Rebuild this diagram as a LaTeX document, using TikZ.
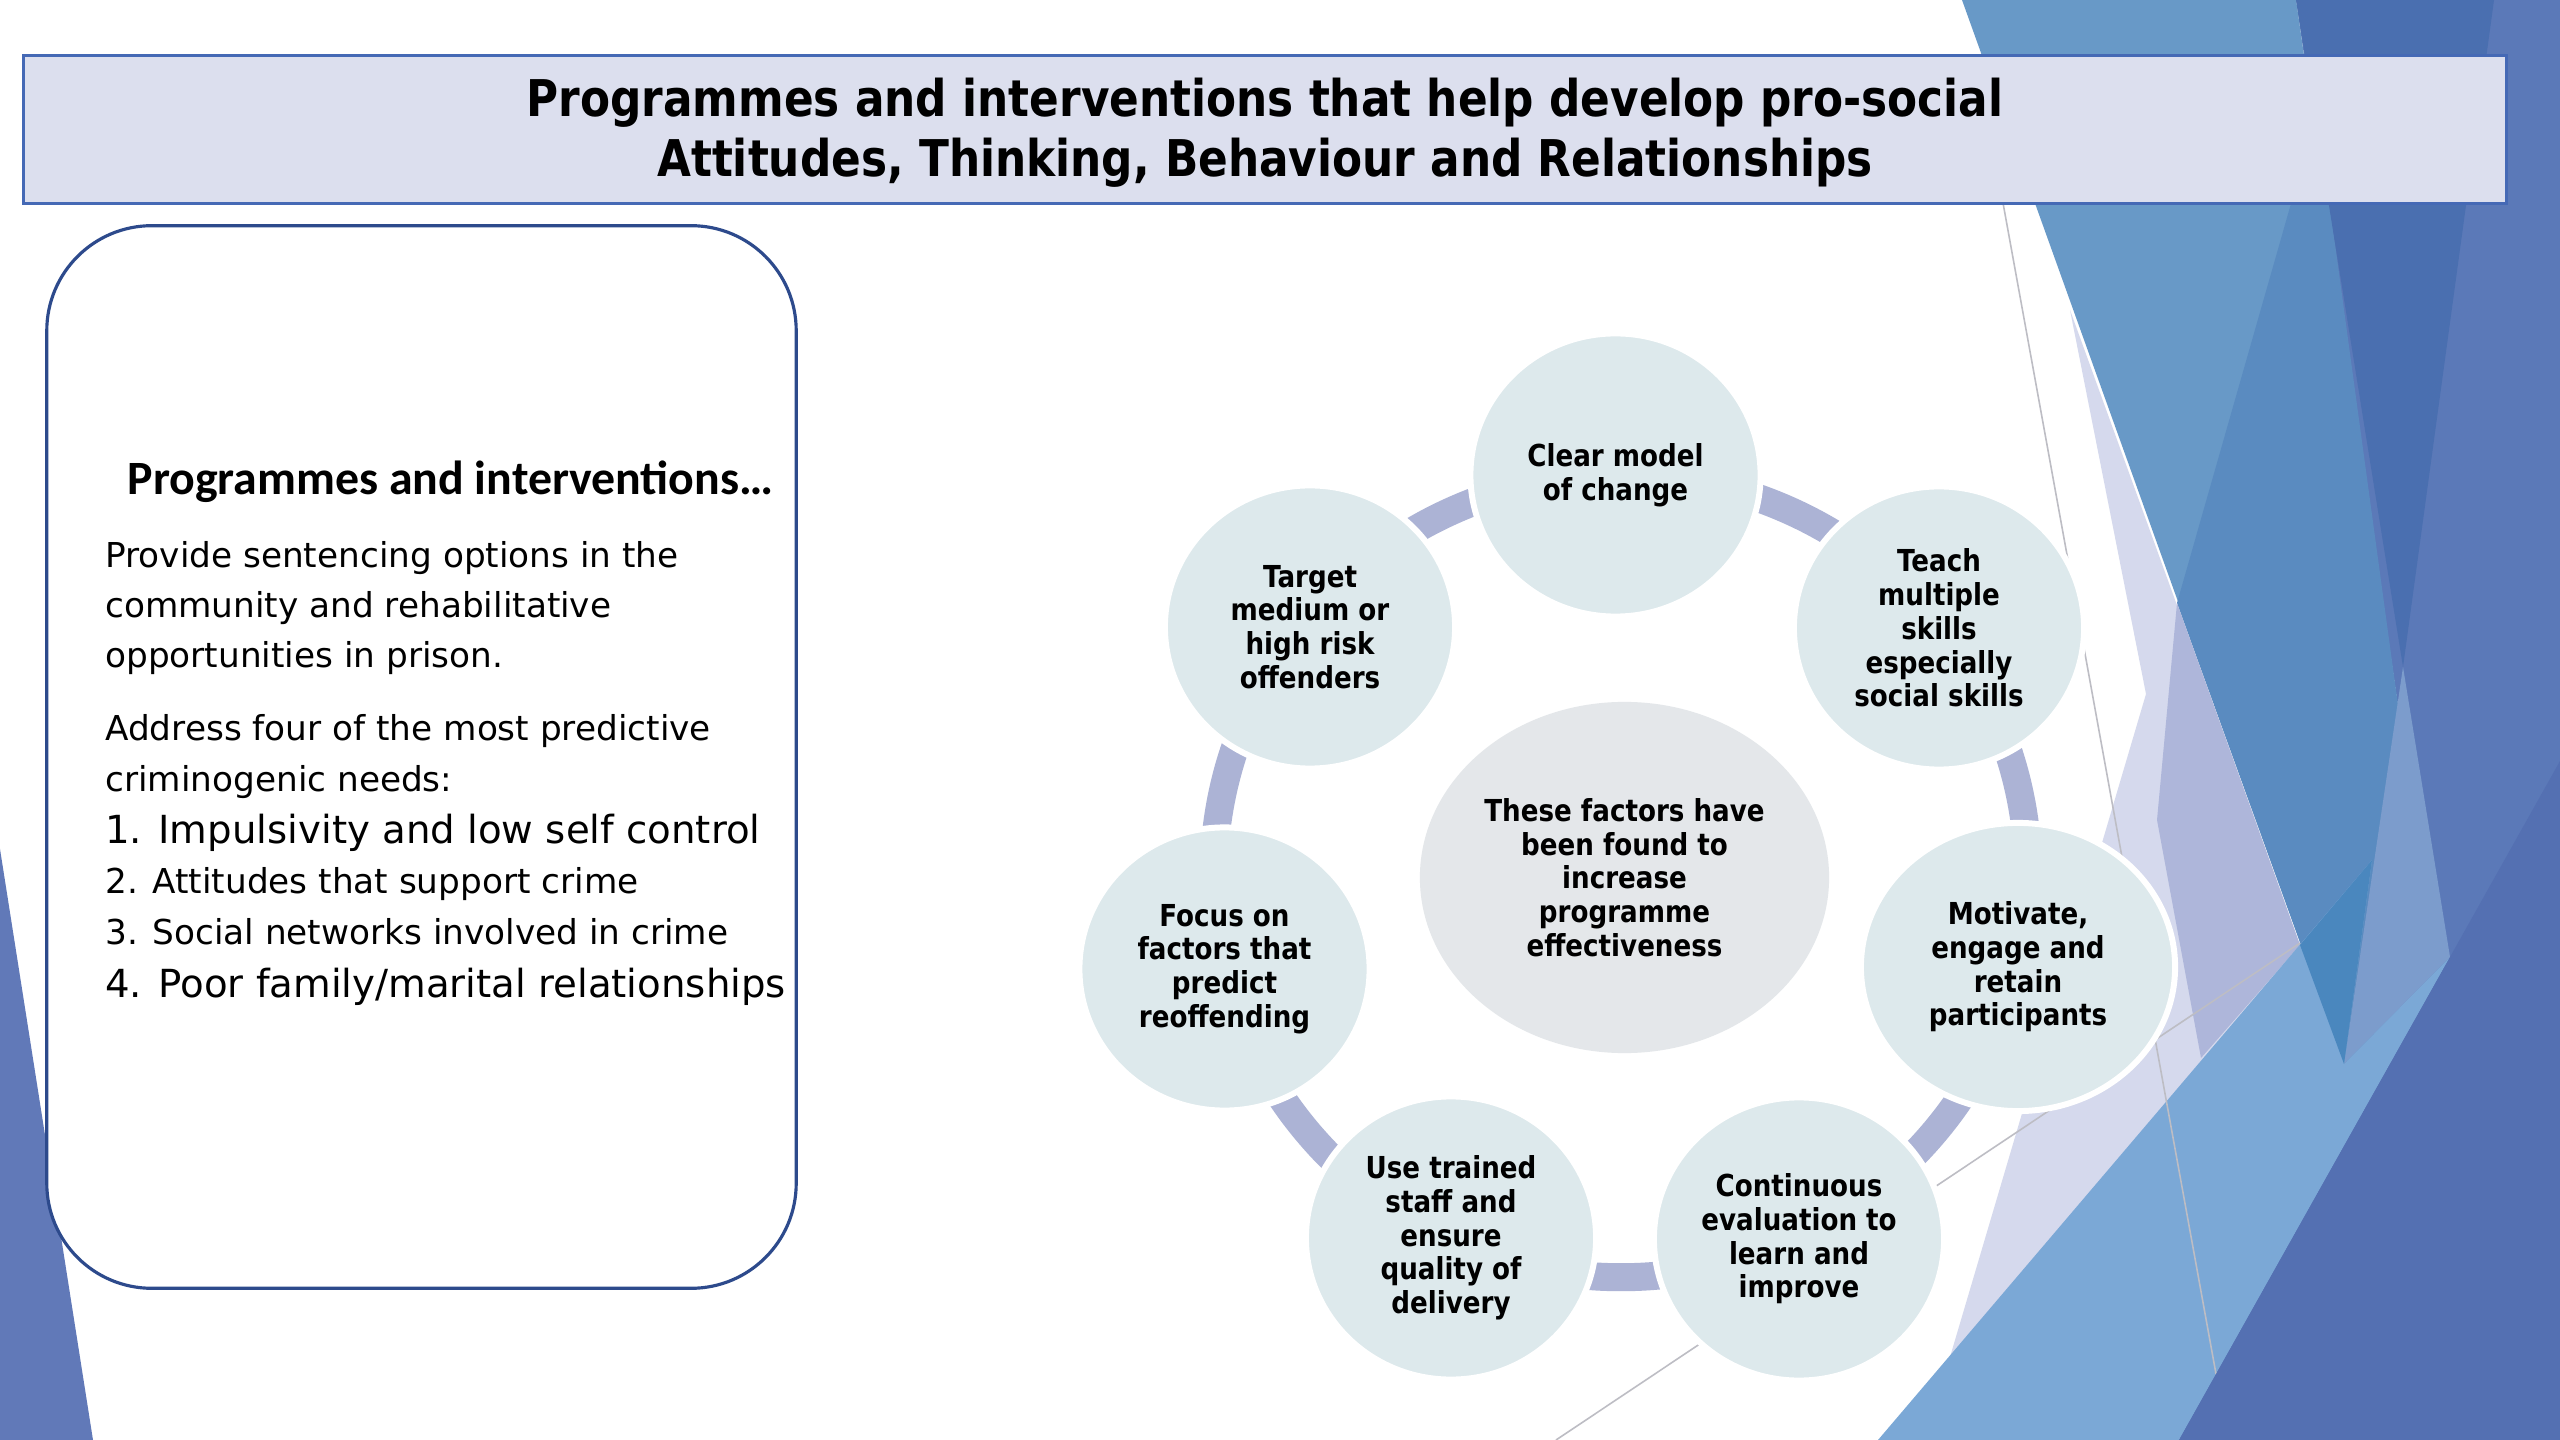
\documentclass[tikz,border=0pt]{standalone}
\usepackage{fontspec}
\setmainfont{DejaVu Sans}
\newfontfamily\titlef{DejaVu Sans}[FakeStretch=0.865]
\newfontfamily\headf{Carlito}
\usetikzlibrary{shapes.geometric}
\definecolor{bgbase}{HTML}{5B79B8}
\definecolor{bgkite}{HTML}{6899C7}
\definecolor{bgkitedk}{HTML}{5A8BC0}
\definecolor{bgband}{HTML}{4A6FB0}
\definecolor{bgstripe}{HTML}{7C9CCC}
\definecolor{bglavlt}{HTML}{D5D9ED}
\definecolor{bglavmd}{HTML}{AEB6DA}
\definecolor{bglblue}{HTML}{7BA8D6}
\definecolor{bgover}{HTML}{4A87BE}
\definecolor{bgdark}{HTML}{5470B2}
\definecolor{bgleft}{HTML}{6179B8}
\definecolor{titlefill}{HTML}{DCDFEE}
\definecolor{titleline}{HTML}{4569B5}
\definecolor{boxline}{HTML}{2D4A8C}
\definecolor{circfill}{HTML}{DDE9EC}
\definecolor{centfill}{HTML}{E4E7EA}
\definecolor{ringcol}{HTML}{ACB3D5}
\definecolor{thinline}{HTML}{BDBDC4}
\tikzset{
  titletext/.style={anchor=base, inner sep=0pt, font=\titlef\bfseries\fontsize{14.4pt}{17pt}\selectfont},
  bodyline/.style={anchor=base west, inner sep=0pt, font=\fontsize{9.75pt}{12pt}\selectfont},
  bigline/.style={anchor=base west, inner sep=0pt, font=\fontsize{11pt}{13pt}\selectfont},
  circ/.style={ellipse, draw=white, line width=1.7pt, fill=circfill, minimum width=2.90cm, minimum height=2.83cm, inner sep=0pt, align=center, font=\titlef\bfseries\fontsize{8.6pt}{9.6pt}\selectfont},
  ring/.style={draw=ringcol, line width=0.28cm},
  thin/.style={draw=thinline, line width=0.45pt}
}
\begin{document}
\begin{tikzpicture}[x=0.01cm,y=-0.01cm]
\useasboundingbox (0,0) rectangle (2560,1440);
\fill[white] (0,0) rectangle (2560,1440);
% background facets
\fill[bgbase] (2296,0) -- (2560,0) -- (2560,1440) -- (2179,1440) -- (2344,1064) -- (2400,720) -- cycle;
\fill[bgkite] (1962,0) -- (2296,0) -- (2400,720) -- (2344,1064) -- cycle;
\fill[bgkitedk] (2292,200) -- (2329,200) -- (2400,720) -- (2344,1064) -- (2177,603) -- cycle;
\fill[bgband] (2296,0) -- (2494,0) -- (2403,667) -- cycle;
\fill[bgstripe] (2403,667) -- (2450,957) -- (2344,1064) -- cycle;
\fill[bglavlt] (2070,310) -- (2300,945) -- (1950,1357) -- (2146,694) -- cycle;
\fill[bglavmd] (2177,603) -- (2300,945) -- (2201,1058) -- (2157,820) -- cycle;
\fill[bglblue] (1878,1440) -- (2372,860) -- (2344,1064) -- (2450,957) -- (2179,1440) -- cycle;
\fill[bgover] (2300,945) -- (2372,860) -- (2344,1064) -- cycle;
\coordinate (g1a) at (2003,203);
\coordinate (g1b) at (2216,1374);
\coordinate (g2a) at (1556,1440);
\coordinate (g2b) at (2300,943);
\draw[thin] (g1a) -- (g1b);
\draw[thin] (g2a) -- (g2b);
\fill[bgdark] (2179,1440) -- (2560,761) -- (2560,1440) -- cycle;
\fill[bgleft] (0,849) -- (93,1440) -- (0,1440) -- cycle;
% title
\node[draw=titleline, line width=0.85pt, fill=titlefill, minimum width=24.82cm, minimum height=1.47cm, inner sep=0pt] (titlebox) at (1265,129.5) {};
\node[titletext] (title1) at (1265,117) {Programmes and interventions that help develop pro-social};
\node[titletext] (title2) at (1265,177) {Attitudes, Thinking, Behaviour and Relationships};
% left box
\node[draw=boxline, line width=0.9pt, fill=white, rounded corners=1.05cm, minimum width=7.49cm, minimum height=10.62cm, inner sep=0pt] (leftbox) at (421.5,757) {};
\node[anchor=base west, inner sep=0pt, font=\headf\bfseries\fontsize{13.6pt}{16pt}\selectfont] (head) at (127,494.5) {Programmes and interventions…};
\node[bodyline] (b1) at (104.6,567.6) {Provide sentencing options in the};
\node[bodyline] (b2) at (104.6,618) {community and rehabilitative};
\node[bodyline] (b3) at (104.6,668) {opportunities in prison.};
\node[bodyline] (b4) at (104.6,740.5) {Address four of the most predictive};
\node[bodyline] (b5) at (104.6,791) {criminogenic needs:};
\node[bigline] (n1) at (104.6,843.5) {1. Impulsivity and low self control};
\node[bodyline] (n2) at (104.6,893) {2. Attitudes that support crime};
\node[bodyline] (n3) at (104.6,945) {3. Social networks involved in crime};
\node[bigline] (n4) at (104.6,997) {4. Poor family/marital relationships};
% cycle
\draw[ring] (1621,876) ellipse [x radius=4.07cm, y radius=4.01cm];
\node[ellipse, fill=centfill, minimum width=4.09cm, minimum height=3.51cm, inner sep=0pt, align=center, font=\titlef\bfseries\fontsize{8.6pt}{9.6pt}\selectfont] (hub) at (1624.5,877.5) {These factors have\\been found to\\increase\\programme\\effectiveness};
\node[circ] (clear) at (1615.5,475) {Clear model\\of change};
\node[circ] (teach) at (1939,628) {Teach\\multiple\\skills\\especially\\social skills};
\node[circ, minimum width=3.14cm, minimum height=2.88cm] (motiv) at (2018,967) {Motivate,\\engage and\\retain\\participants};
\node[circ] (contin) at (1799,1239) {Continuous\\evaluation to\\learn and\\improve};
\node[circ] (usetr) at (1451,1238) {Use trained\\staff and\\ensure\\quality of\\delivery};
\node[circ] (focus) at (1224.5,969) {Focus on\\factors that\\predict\\reoffending};
\node[circ] (target) at (1310,627) {Target\\medium or\\high risk\\offenders};
\end{tikzpicture}
\end{document}
